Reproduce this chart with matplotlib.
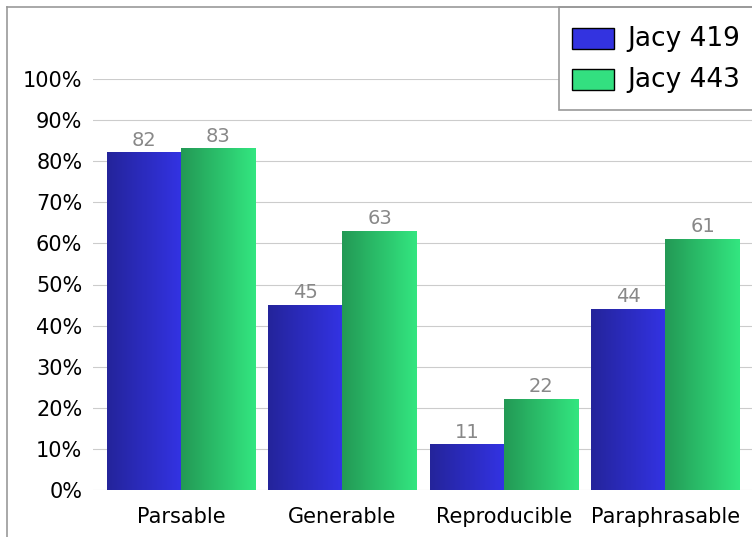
import numpy as np
import matplotlib
matplotlib.use("Agg")
import matplotlib.pyplot as plt
from matplotlib.colors import LinearSegmentedColormap
from matplotlib.patches import Rectangle
from matplotlib.lines import Line2D

categories = ["Parsable", "Generable", "Reproducible", "Paraphrasable"]
series_names = ["Jacy 419", "Jacy 443"]
jacy419 = [82, 45, 11, 44]
jacy443 = [83, 63, 22, 61]
yticks = [0, 10, 20, 30, 40, 50, 60, 70, 80, 90, 100]
ytick_labels = [f"{v}%" for v in yticks]

W, H = 752, 537
fig = plt.figure(figsize=(W / 100, H / 100), dpi=100)
fig.patch.set_facecolor("white")

def fx(px):
    return px / W

def fy(py):
    return 1 - py / H

ax = fig.add_axes([fx(93), fy(490), fx(752) - fx(93), fy(79) - fy(490)])
ax.set_facecolor("none")
for s in ax.spines.values():
    s.set_visible(False)

x = np.arange(len(categories))
bw = 0.46
grads = [
    LinearSegmentedColormap.from_list("b", ["#24249a", "#3333e4"]),
    LinearSegmentedColormap.from_list("g", ["#239955", "#33e680"]),
]
legend_colors = ["#3333e0", "#33e080"]
grad_img = np.linspace(0, 1, 256).reshape(1, -1)

for si, vals in enumerate([jacy419, jacy443]):
    offs = (si - 0.5) * bw
    bars = ax.bar(x + offs, vals, width=bw, color="none", edgecolor="none", zorder=2)
    for b, v in zip(bars, vals):
        x0, w, h = b.get_x(), b.get_width(), b.get_height()
        ax.imshow(grad_img, cmap=grads[si], extent=[x0, x0 + w, 0, h],
                  aspect="auto", zorder=2, interpolation="bilinear")
        ax.text(x0 + w / 2, h + 0.8, f"{v}", ha="center", va="bottom",
                fontsize=14, color="#888888", zorder=3)

ax.set_xlim(-0.545, 3.536)
ax.set_ylim(0, 100)
ax.set_yticks(yticks)
ax.set_yticklabels(ytick_labels)
ax.set_xticks(x)
ax.set_xticklabels(categories)
ax.tick_params(axis="y", length=0, pad=7.7, labelsize=15, colors="black")
ax.tick_params(axis="x", length=0, pad=12, labelsize=15, colors="black")
ax.yaxis.grid(True, color="#cccccc", linewidth=0.8, zorder=0)
ax.set_axisbelow(True)

# outer border
fig.add_artist(Line2D([fx(7), 1], [fy(7), fy(7)], color="#999999", lw=1.2))
fig.add_artist(Line2D([fx(7), fx(7)], [fy(7), 0], color="#999999", lw=1.2))

# legend
fig.add_artist(Rectangle((fx(559), fy(110)), 1 - fx(559) + 0.01, fy(7) - fy(110),
                         facecolor="white", edgecolor="#999999", lw=1.2,
                         transform=fig.transFigure))
for i, (name, c) in enumerate(zip(series_names, legend_colors)):
    top = 28 + i * 41
    fig.add_artist(Rectangle((fx(572), fy(top + 21)), fx(614) - fx(572), fy(top) - fy(top + 21),
                             facecolor=c, edgecolor="black", lw=1.0,
                             transform=fig.transFigure))
    fig.text(fx(627), fy(top + 11), name, fontsize=19, va="center", ha="left", color="black")

fig.savefig("out.png", dpi=100)
